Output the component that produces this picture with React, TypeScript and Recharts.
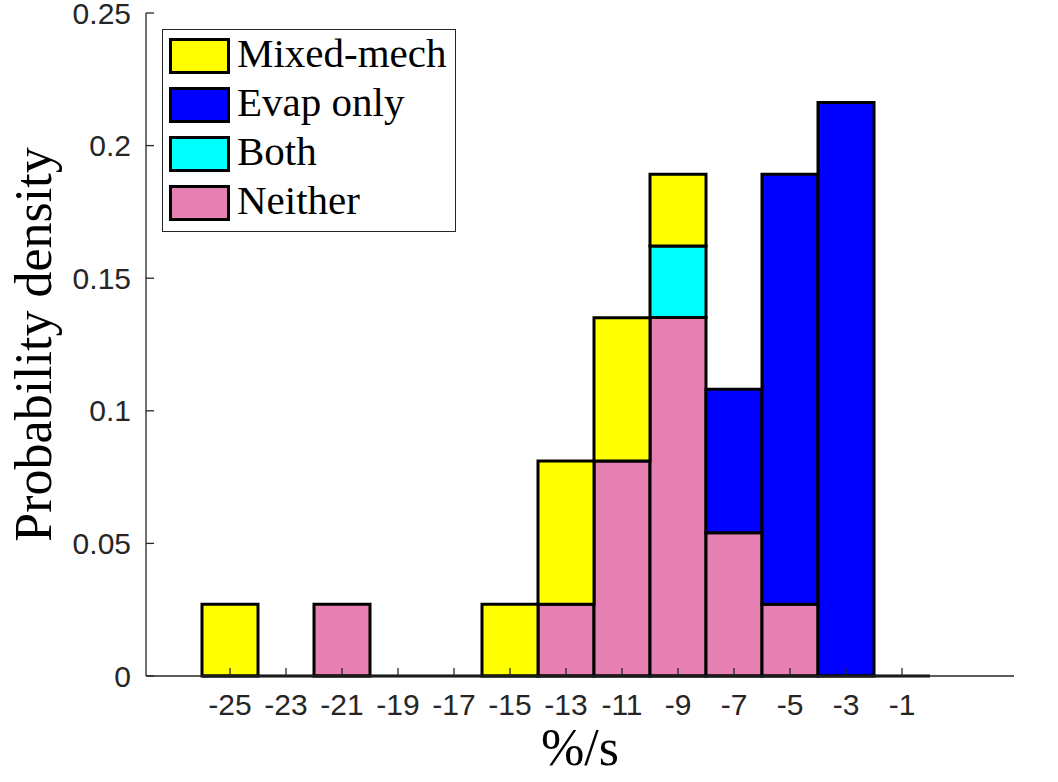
import React from 'react';
import { ComposedChart, Bar, XAxis, YAxis, ReferenceLine, Legend } from 'recharts';

const binCenters = [-25, -23, -21, -19, -17, -15, -13, -11, -9, -7, -5, -3, -1];
const binWidth = 2;
const neither = [0, 0, 0.02703, 0, 0, 0, 0.02703, 0.08108, 0.13514, 0.05405, 0.02703, 0, 0];
const both = [0, 0, 0, 0, 0, 0, 0, 0, 0.02703, 0, 0, 0, 0];
const evapOnly = [0, 0, 0, 0, 0, 0, 0, 0, 0, 0.05405, 0.16216, 0.21622, 0];
const mixedMech = [0.02703, 0, 0, 0, 0, 0.02703, 0.05405, 0.05405, 0.02703, 0, 0, 0, 0];
const xTicks = [-25, -23, -21, -19, -17, -15, -13, -11, -9, -7, -5, -3, -1];
const yTicks = [0, 0.05, 0.1, 0.15, 0.2, 0.25];
const xDomain = [-28, 3];
const yDomain = [0, 0.25];
const legendOrder = ['Mixed-mech', 'Evap only', 'Both', 'Neither'];

const data = binCenters.map((c, i) => ({
  x: c,
  neither: neither[i],
  both: both[i],
  evap: evapOnly[i],
  mixed: mixedMech[i],
}));

const AXIS = '#262626';
const tickStyle = { fill: AXIS, fontSize: 30, fontFamily: '"Liberation Sans", Arial, Helvetica, sans-serif' };
const serif = '"Liberation Serif", "Times New Roman", serif';

const NoTick = () => <g />;

const renderLegend = (props: any) => {
  const payload = [...(props.payload || [])].sort(
    (a: any, b: any) => legendOrder.indexOf(a.value) - legendOrder.indexOf(b.value)
  );
  return (
    <div
      style={{
        width: 294,
        height: 203,
        boxSizing: 'border-box',
        border: `1.3px solid ${AXIS}`,
        background: '#fff',
      }}
    >
      <svg width={292} height={201} style={{ display: 'block' }}>
        {payload.map((p: any, i: number) => (
          <g key={p.value}>
            <rect x={7.5} y={9.5 + i * 49} width={58} height={33} fill={p.color} stroke="#000" strokeWidth={3} />
            <text x={74} y={36.5 + i * 49} fontFamily={serif} fontSize={41} fill="#000">
              {p.value}
            </text>
          </g>
        ))}
      </svg>
    </div>
  );
};

export default function App() {
  const first = binCenters[0] - binWidth / 2;
  const last = binCenters[binCenters.length - 1] + binWidth / 2;
  return (
    <div style={{ position: 'absolute', left: 0, top: 0, background: '#fff' }}>
      <ComposedChart
        width={1058}
        height={782}
        data={data}
        margin={{ top: 13, right: 44, bottom: 0, left: 0 }}
        barCategoryGap={0}
        barGap={0}
      >
        <XAxis
          dataKey="x"
          type="number"
          domain={xDomain}
          ticks={xTicks}
          interval={0}
          height={106}
          tickSize={-8}
          tickMargin={26}
          tick={tickStyle}
          stroke={AXIS}
          strokeWidth={1.3}
          allowDataOverflow
          label={{
            content: ({ viewBox }: any) => (
              <text
                x={viewBox.x + viewBox.width / 2}
                y={viewBox.y + 89}
                textAnchor="middle"
                fontFamily={serif}
                fontSize={52}
                fill="#000"
              >
                %/s
              </text>
            ),
          }}
        />
        <XAxis
          xAxisId="top"
          orientation="top"
          type="number"
          domain={xDomain}
          ticks={xTicks}
          interval={0}
          height={0}
          tickSize={-8}
          tick={NoTick}
          stroke={AXIS}
          strokeWidth={1.3}
          allowDataOverflow
        />
        <YAxis
          type="number"
          domain={yDomain}
          ticks={yTicks}
          interval={0}
          width={146}
          tickSize={-8}
          tickMargin={23}
          tick={tickStyle}
          stroke={AXIS}
          strokeWidth={1.3}
          label={{
            content: ({ viewBox }: any) => {
              const cx = viewBox.x + 51;
              const cy = viewBox.y + viewBox.height / 2;
              return (
                <text
                  x={cx}
                  y={cy}
                  transform={`rotate(-90, ${cx}, ${cy})`}
                  textAnchor="middle"
                  fontFamily={serif}
                  fontSize={52}
                  fill="#000"
                >
                  Probability density
                </text>
              );
            },
          }}
        />
        <YAxis
          yAxisId="right"
          orientation="right"
          type="number"
          domain={yDomain}
          ticks={yTicks}
          interval={0}
          width={0}
          tickSize={-8}
          tick={NoTick}
          stroke={AXIS}
          strokeWidth={1.3}
        />
        <Legend
          layout="horizontal"
          verticalAlign="middle"
          align="center"
          content={renderLegend}
          wrapperStyle={{ position: 'absolute', left: 162, top: 29, width: 294, height: 203 }}
        />
        <Bar dataKey="neither" name="Neither" stackId="s" fill="#E680B3" stroke="#000" strokeWidth={3} isAnimationActive={false} />
        <Bar dataKey="both" name="Both" stackId="s" fill="#00FFFF" stroke="#000" strokeWidth={3} isAnimationActive={false} />
        <Bar dataKey="evap" name="Evap only" stackId="s" fill="#0000FF" stroke="#000" strokeWidth={3} isAnimationActive={false} />
        <Bar dataKey="mixed" name="Mixed-mech" stackId="s" fill="#FFFF00" stroke="#000" strokeWidth={3} isAnimationActive={false} />
        <ReferenceLine
          segment={[
            { x: first, y: 0 },
            { x: last, y: 0 },
          ]}
          stroke="#000"
          strokeWidth={3}
        />
      </ComposedChart>
    </div>
  );
}
